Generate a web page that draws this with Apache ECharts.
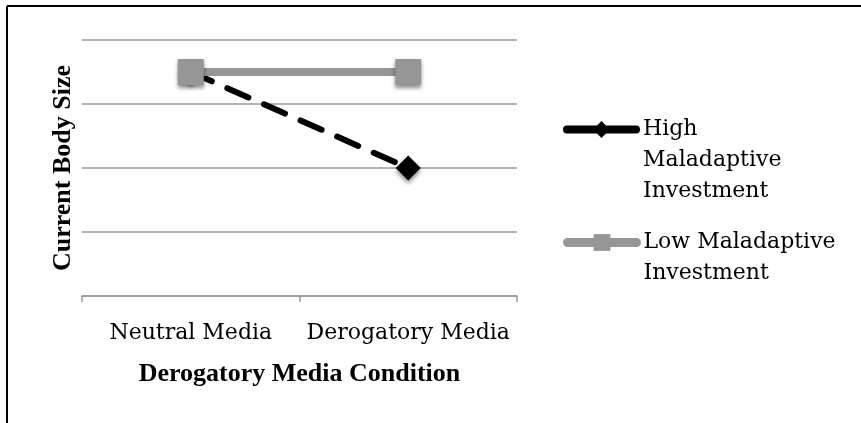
<!DOCTYPE html>
<html>
<head>
<meta charset="utf-8">
<style>
html,body{margin:0;padding:0;background:#fff;}
#chart{width:861px;height:423px;}
</style>
<script src="https://cdn.jsdelivr.net/npm/echarts@6/dist/echarts.min.js"></script>
</head>
<body>
<div id="chart"></div>
<script>
const categories = ['Neutral Media', 'Derogatory Media'];
const seriesNames = ['High Maladaptive Investment', 'Low Maladaptive Investment'];
const highValues = [3.5, 2.0];
const lowValues = [3.5, 3.5];
const legendLabels = ['\n\nHigh\nMaladaptive\nInvestment', '\nLow Maladaptive\nInvestment'];
const yTicks = [0, 1, 2, 3, 4];

const chart = echarts.init(document.getElementById('chart'));
const serif = 'DejaVu Serif';
const bold = 'Liberation Serif';
const shadow = {shadowBlur: 4, shadowOffsetY: 3, shadowColor: 'rgba(0,0,0,0.45)'};

const legendBase = {
  orient: 'vertical', left: 563, padding: 0, itemWidth: 69, itemHeight: 21,
  selectedMode: false,
  textStyle: {fontFamily: serif, fontSize: 22, lineHeight: 31, color: '#000', padding: [0,0,0,2]},
  formatter: function (name) { return legendLabels[seriesNames.indexOf(name)]; }
};

chart.setOption({
  animation: false,
  graphic: [
    {type: 'line', shape: {x1: 7, y1: 6, x2: 861, y2: 6}, style: {stroke: '#000', lineWidth: 2}},
    {type: 'line', shape: {x1: 7, y1: 6, x2: 7, y2: 423}, style: {stroke: '#000', lineWidth: 2}}
  ],
  grid: {left: 82, right: 344, top: 40, bottom: 127},
  legend: [
    Object.assign({}, legendBase, {top: 52, data: [{name: seriesNames[0], lineStyle: {width: 8, cap: 'round', type: 'solid', color: '#000'}}]}),
    Object.assign({}, legendBase, {top: 196, data: [{name: seriesNames[1], lineStyle: {width: 9, cap: 'round', type: 'solid', color: '#969696'}}]})
  ],
  xAxis: {
    type: 'category', data: categories,
    axisLine: {lineStyle: {color: '#999', width: 1.5}},
    axisTick: {show: true, interval: 0, length: 6, lineStyle: {color: '#999', width: 1.5}},
    axisLabel: {interval: 0, fontFamily: serif, fontSize: 22, color: '#000', margin: 26},
    name: 'Derogatory Media Condition', nameLocation: 'middle', nameGap: 65,
    nameTextStyle: {fontFamily: bold, fontWeight: 'bold', fontSize: 26, color: '#000'}
  },
  yAxis: {
    type: 'value', min: yTicks[0], max: yTicks[yTicks.length - 1], interval: 1,
    axisLine: {show: false}, axisTick: {show: false}, axisLabel: {show: false},
    splitLine: {lineStyle: {color: '#999', width: 1.5}},
    name: 'Current Body Size', nameLocation: 'middle', nameGap: 6, nameRotate: 90,
    nameTextStyle: {fontFamily: bold, fontWeight: 'bold', fontSize: 26, color: '#000'}
  },
  series: [
    {
      name: seriesNames[0], type: 'line', data: highValues,
      symbol: 'diamond', symbolSize: 25,
      itemStyle: Object.assign({color: '#000'}, shadow),
      lineStyle: {color: '#000', width: 6, type: [23, 17], cap: 'round'},
      z: 2
    },
    {
      name: seriesNames[1], type: 'line', data: lowValues,
      symbol: 'rect', symbolSize: 26,
      itemStyle: Object.assign({color: '#969696'}, shadow),
      lineStyle: {color: '#969696', width: 8},
      z: 3
    }
  ]
});
</script>
</body>
</html>
